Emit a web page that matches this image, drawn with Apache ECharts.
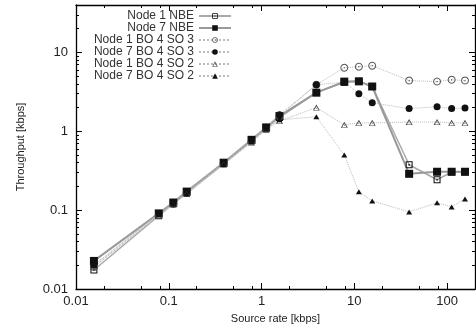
<!DOCTYPE html>
<html>
<head>
<meta charset="utf-8">
<script src="https://cdn.jsdelivr.net/npm/echarts@6/dist/echarts.min.js"></script>
<style>
  html, body { margin: 0; padding: 0; background: #fff; }
  #chart { width: 476px; height: 332px; }
</style>
</head>
<body>
<div id="chart"></div>
<script>
// source rates (kbps)
const sourceRate = [0.0156, 0.078, 0.112, 0.156, 0.39, 0.78, 1.12, 1.56, 3.9, 7.8, 11.2, 15.6, 39, 78, 112, 156];

// throughput (kbps) per series
const node1NBE   = [0.0174, 0.085, 0.122, 0.168, 0.39, 0.76, 1.1, 1.5, 3.1, 4.2, 4.3, 3.7, 0.377, 0.243, 0.305, 0.305];
const node7NBE   = [0.0227, 0.091, 0.125, 0.172, 0.40, 0.78, 1.12, 1.56, 3.09, 4.27, 4.3, 3.7, 0.289, 0.307, 0.307, 0.307];
const node1SO3   = [0.019, 0.087, 0.12, 0.165, 0.39, 0.75, 1.1, 1.55, 3.9, 6.4, 6.6, 6.8, 4.4, 4.27, 4.5, 4.4];
const node7SO3   = [0.02, 0.09, 0.125, 0.17, 0.40, 0.78, 1.13, 1.62, 3.9, 4.2, 3.0, 2.3, 1.94, 2.05, 1.94, 1.97];
const node1SO2   = [0.019, 0.085, 0.118, 0.16, 0.38, 0.72, 1.05, 1.35, 2.0, 1.21, 1.28, 1.28, 1.31, 1.31, 1.28, 1.28];
const node7SO2   = [0.02, 0.088, 0.12, 0.16, 0.38, 0.74, 1.07, 1.4, 1.53, 0.50, 0.171, 0.131, 0.095, 0.124, 0.110, 0.139];

const seriesNames = ['Node 1 NBE', 'Node 7 NBE', 'Node 1 BO 4 SO 3', 'Node 7 BO 4 SO 3', 'Node 1 BO 4 SO 2', 'Node 7 BO 4 SO 2'];

// tick values
const xMajor = [0.01, 0.1, 1, 10, 100];
const xMinor = [0.02, 0.05, 0.08, 0.2, 0.5, 0.8, 2, 5, 8, 20, 50, 80];
const yMajor = [0.01, 0.1, 1, 10];
const yMinor = [];
[0.01, 0.1, 1, 10].forEach(d => {
    for (let k = 2; k <= 9; k++) yMinor.push(+(d * k).toPrecision(2));
});

// 記號 (symbols)
const boxDot = 'path://M0,0H10V10H0Z M1.5,1.5V8.5H8.5V1.5Z M4,4H6V6H4Z';
const circleDot = 'path://M20,10L18.66,15L15,18.66L10,20L5,18.66L1.34,15L0,10L1.34,5L5,1.34L10,0L15,1.34L18.66,5Z ' +
    'M16.5,6.25L13.75,3.5L10,2.5L6.25,3.5L3.5,6.25L2.5,10L3.5,13.75L6.25,16.5L10,17.5L13.75,16.5L16.5,13.75L17.5,10Z ' +
    'M8.5,8.5H11.5V11.5H8.5Z';
const triDot = 'path://M10,0L20,17.3L0,17.3Z M10,5L3.5,15.5L16.5,15.5Z M9,10H11V12H9Z';

const pairs = ys => sourceRate.map((x, i) => [x, ys[i]]);

function makeSeries(name, ys, symbol, size, lineColor, lineWidth, lineType, markColor) {
    return {
        name: name,
        type: 'line',
        data: pairs(ys),
        symbol: symbol,
        symbolSize: size,
        showAllSymbol: true,
        lineStyle: { color: lineColor, width: lineWidth, type: lineType },
        itemStyle: { color: markColor },
        emphasis: { disabled: true }
    };
}

const textColor = '#222';

function logAxis(kind, pos, ticks, len, showLine, showLabel, extra) {
    const isX = kind === 'x';
    const ax = {
        type: 'log',
        logBase: 10,
        min: isX ? 0.01 : 0.01,
        max: isX ? 200 : 40,
        position: pos,
        axisLine: { show: showLine, lineStyle: { color: '#000', width: 1.3 } },
        axisTick: { show: true, inside: true, length: len, customValues: ticks, lineStyle: { color: '#000', width: 1 } },
        axisLabel: showLabel ? {
            customValues: ticks,
            color: textColor,
            fontSize: 13,
            fontFamily: 'Liberation Sans, Arial, sans-serif',
            margin: isX ? 6 : 8,
            formatter: v => String(+v.toPrecision(3))
        } : { show: false },
        splitLine: { show: false },
        minorTick: { show: false },
        minorSplitLine: { show: false }
    };
    return Object.assign(ax, extra || {});
}

const chart = echarts.init(document.getElementById('chart'), null, { renderer: 'canvas' });

chart.setOption({
    animation: false,
    backgroundColor: '#fff',
    grid: { left: 76, top: 5, right: 1, bottom: 43, containLabel: false },
    legend: {
        data: seriesNames,
        orient: 'vertical',
        align: 'right',
        right: 244,
        top: 10,
        padding: 0,
        itemGap: 0,
        itemWidth: 32,
        itemHeight: 7,
        textStyle: { color: '#333', fontSize: 12, lineHeight: 11.5, fontFamily: 'Liberation Sans, Arial, sans-serif' },
        selectedMode: false
    },
    xAxis: [
        logAxis('x', 'bottom', xMajor, 6, true, true, {
            name: 'Source rate [kbps]',
            nameLocation: 'middle',
            nameGap: 24,
            nameTextStyle: { color: textColor, fontSize: 11, fontFamily: 'Liberation Sans, Arial, sans-serif' }
        }),
        logAxis('x', 'bottom', xMinor, 3, false, false),
        logAxis('x', 'top', xMajor, 6, true, false),
        logAxis('x', 'top', xMinor, 3, false, false)
    ],
    yAxis: [
        logAxis('y', 'left', yMajor, 6, true, true, {
            name: 'Throughput [kbps]',
            nameLocation: 'middle',
            nameGap: 50,
            nameTextStyle: { color: textColor, fontSize: 11, fontFamily: 'Liberation Sans, Arial, sans-serif' }
        }),
        logAxis('y', 'left', yMinor, 3, false, false),
        logAxis('y', 'right', yMajor, 6, true, false),
        logAxis('y', 'right', yMinor, 3, false, false)
    ],
    series: [
        makeSeries(seriesNames[0], node1NBE, boxDot, 7, '#aaa', 1.5, 'solid', '#111'),
        makeSeries(seriesNames[1], node7NBE, 'rect', 8, '#999', 2, 'solid', '#111'),
        makeSeries(seriesNames[2], node1SO3, circleDot, 8, '#bbb', 1, 'dotted', '#555'),
        makeSeries(seriesNames[3], node7SO3, 'circle', 7, '#bbb', 1, 'dotted', '#111'),
        makeSeries(seriesNames[4], node1SO2, triDot, [7, 6], '#bbb', 1, 'dotted', '#444'),
        makeSeries(seriesNames[5], node7SO2, 'triangle', [6, 5], '#bbb', 1, 'dotted', '#111')
    ]
});
</script>
</body>
</html>
